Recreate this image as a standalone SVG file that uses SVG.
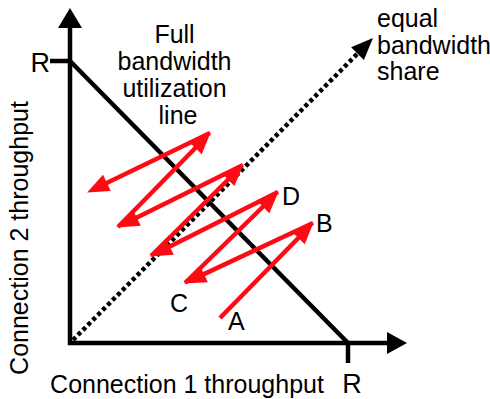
<svg xmlns="http://www.w3.org/2000/svg" width="490" height="399" viewBox="0 0 490 399">
<defs>
<style>
.t{font-family:"Liberation Sans",Arial,sans-serif;font-size:25px;fill:#000}
.lbl{font-family:"Liberation Sans",Arial,sans-serif;font-size:25px;fill:#000}
.r{font-family:"Liberation Sans",Arial,sans-serif;font-size:27px;fill:#000}
.blk{stroke:#000;stroke-width:4.5;fill:none}
.red{stroke:#ff0a14;stroke-width:4.5;fill:none;marker-end:url(#rh)}
</style>
<marker id="rh" markerUnits="userSpaceOnUse" markerWidth="22" markerHeight="18" refX="6" refY="9" orient="auto" viewBox="0 0 22 18" overflow="visible">
<path d="M0,0 L22,9 L0,18 Z" fill="#ff0a14"/>
</marker>
</defs>
<rect width="490" height="399" fill="#fff"/>

<g id="axes">
<path class="blk" d="M70,28 V343 H388" stroke-linejoin="miter"/>
<polygon points="70,8 58,28 82,28" fill="#000"/>
<polygon points="407,343 387,332 387,354" fill="#000"/>
<line class="blk" x1="50" y1="61" x2="70" y2="61"/>
<line class="blk" x1="348" y1="343" x2="348" y2="363"/>
<text class="r" x="50" y="72" text-anchor="end">R</text>
<text class="r" x="352" y="393" text-anchor="middle">R</text>
<text class="t" x="187" y="393" text-anchor="middle">Connection 1 throughput</text>
<text class="t" transform="translate(28,238) rotate(-90)" text-anchor="middle">Connection 2 throughput</text>
</g>

<g id="full-utilization-line">
<line class="blk" x1="70" y1="61" x2="348" y2="343"/>
<text class="t" text-anchor="middle">
<tspan x="178" y="43">Full</tspan>
<tspan x="178" y="70">bandwidth</tspan>
<tspan x="178" y="97">utilization</tspan>
<tspan x="178" y="124">line</tspan>
</text>
</g>

<g id="equal-share-line">
<line x1="73" y1="340" x2="361.7" y2="49.4" stroke="#000" stroke-width="4.5" stroke-dasharray="4 3"/>
<polygon points="373,38 363.9,59.9 351.1,47.3" fill="#000"/>
<text class="t">
<tspan x="377" y="27">equal</tspan>
<tspan x="377" y="54">bandwidth</tspan>
<tspan x="377" y="80">share</tspan>
</text>
</g>

<g id="connectors">
<line class="red" x1="220" y1="318" x2="302.5" y2="233.7"/>
<line class="red" x1="313" y1="223" x2="198.6" y2="276.6"/>
<line class="red" x1="185" y1="283" x2="267.3" y2="202.5"/>
<line class="red" x1="278" y1="192" x2="164.4" y2="249.3"/>
<line class="red" x1="151" y1="256" x2="232.3" y2="175.5"/>
<line class="red" x1="243" y1="165" x2="131.4" y2="220.3"/>
<line class="red" x1="118" y1="227" x2="199.5" y2="143.7"/>
<line class="red" x1="210" y1="133" x2="101.5" y2="185.5"/>
</g>

<g id="point-labels">
<text class="lbl" x="228" y="330">A</text>
<text class="lbl" x="316" y="232">B</text>
<text class="lbl" x="170" y="312">C</text>
<text class="lbl" x="282" y="205">D</text>
</g>
</svg>
